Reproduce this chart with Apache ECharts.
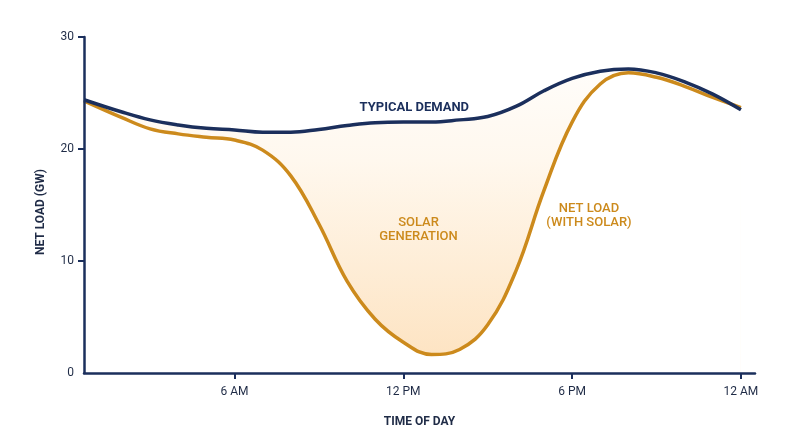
<!DOCTYPE html>
<html>
<head>
<meta charset="utf-8">
<script src="https://cdn.jsdelivr.net/npm/echarts@6/dist/echarts.min.js"></script>
<style>
html,body{margin:0;padding:0;background:#fff;}
#chart{width:800px;height:447px;}
</style>
</head>
<body>
<div id="chart"></div>
<script>
// Hour of day (x) for each reading
const hours = [0.65, 2, 3, 4, 5, 6, 7, 8, 9, 10, 11, 12, 13, 14, 15, 16, 17, 18, 19, 20, 21, 22, 23, 24];
// Typical demand (GW)
const demand = [24.4, 23.3, 22.6, 22.15, 21.85, 21.7, 21.5, 21.5, 21.75, 22.1, 22.35, 22.4, 22.4, 22.6, 22.9, 23.8, 25.2, 26.3, 26.95, 27.15, 26.8, 26.0, 24.9, 23.5];
// Net load with solar (GW)
const netLoad = [24.3, 22.8, 21.8, 21.35, 21.05, 20.8, 19.9, 17.6, 13.3, 8.2, 4.8, 2.75, 1.65, 2.1, 4.3, 9.1, 16.3, 22.4, 25.8, 26.8, 26.4, 25.6, 24.6, 23.7];
// X tick positions and labels
const xTickValues = [6, 12, 18, 24];
const xTickLabels = ['6 AM', '12 PM', '6 PM', '12 AM'];

const NAVY = '#1b2f5c';
const GOLD = '#cc8a1c';
const TEXT = '#1f2b46';

const pairs = arr => hours.map((h, i) => [h, arr[i]]);
const SMOOTH = 0.4;

const chart = echarts.init(document.getElementById('chart'), null, {renderer: 'canvas'});
chart.setOption({
  animation: false,
  backgroundColor: '#ffffff',
  textStyle: {fontFamily: 'Roboto'},
  grid: {left: 84, right: 45, top: 37, bottom: 74, containLabel: false},
  xAxis: {
    type: 'value',
    z: 10,
    min: 0.65,
    max: 24.5,
    name: 'TIME OF DAY',
    nameLocation: 'middle',
    nameGap: 43,
    nameTextStyle: {fontFamily: 'Roboto', fontWeight: 'bold', fontSize: 12, color: TEXT},
    axisLine: {lineStyle: {color: NAVY, width: 2.5}},
    axisTick: {show: true, length: 6, lineStyle: {color: NAVY, width: 2}, customValues: xTickValues},
    axisLabel: {
      customValues: xTickValues,
      margin: 13,
      fontFamily: 'Roboto', fontSize: 12, color: TEXT,
      formatter: v => xTickLabels[xTickValues.indexOf(v)] || ''
    },
    splitLine: {show: false}
  },
  yAxis: {
    type: 'value',
    z: 10,
    min: 0,
    max: 30,
    interval: 10,
    name: 'NET LOAD (GW)',
    nameLocation: 'middle',
    nameGap: 37,
    nameRotate: 90,
    nameTextStyle: {fontFamily: 'Roboto', fontWeight: 'bold', fontSize: 12, color: TEXT, padding: [0, 0, 0, -14]},
    axisLine: {show: true, lineStyle: {color: NAVY, width: 2.5}},
    axisTick: {show: true, length: 6, lineStyle: {color: NAVY, width: 2}, customValues: [10, 20, 30]},
    axisLabel: {margin: 10, fontFamily: 'Roboto', fontSize: 12, color: TEXT},
    splitLine: {show: false}
  },
  series: [
    {
      // gradient fill under demand; the net-load white fill masks everything below net load
      name: 'demandFill', type: 'line', data: pairs(demand),
      smooth: SMOOTH, symbol: 'none', lineStyle: {opacity: 0}, silent: true, z: 1,
      areaStyle: {
        opacity: 1,
        color: new echarts.graphic.LinearGradient(0, 0, 0, 1, [
          {offset: 0, color: '#fffdfa'},
          {offset: 0.3, color: '#fff8ee'},
          {offset: 1, color: '#fde2bf'}
        ])
      },
      markPoint: {
        symbol: 'circle', symbolSize: 0, silent: true,
        label: {show: true, position: 'inside', fontFamily: 'Roboto', fontSize: 13, fontWeight: 500, color: GOLD, lineHeight: 14, align: 'center'},
        data: [
          {coord: [12.54, 12.77], value: 'SOLAR\nGENERATION', label: {formatter: 'SOLAR\nGENERATION'}}
        ]
      }
    },
    {
      name: 'Net load (with solar)', type: 'line', data: pairs(netLoad),
      smooth: SMOOTH, symbol: 'none', z: 3,
      lineStyle: {color: GOLD, width: 3.5},
      areaStyle: {color: '#ffffff', opacity: 1},
      markPoint: {
        symbol: 'circle', symbolSize: 0, silent: true,
        label: {show: true, position: 'inside', fontFamily: 'Roboto', fontSize: 13, fontWeight: 500, color: GOLD, lineHeight: 14, align: 'center'},
        data: [
          {coord: [18.6, 14.06], value: 'NET LOAD\n(WITH SOLAR)', label: {formatter: 'NET LOAD\n(WITH SOLAR)'}}
        ]
      }
    },
    {
      name: 'Typical demand', type: 'line', data: pairs(demand),
      smooth: SMOOTH, symbol: 'none', z: 4,
      lineStyle: {color: NAVY, width: 3.5},
      markPoint: {
        symbol: 'circle', symbolSize: 0, silent: true,
        label: {show: true, position: 'inside', fontFamily: 'Roboto', fontSize: 13, fontWeight: 'bold', color: NAVY, align: 'center'},
        data: [
          {coord: [12.39, 23.66], value: 'TYPICAL DEMAND', label: {formatter: 'TYPICAL DEMAND'}}
        ]
      }
    }
  ]
});
</script>
</body>
</html>
